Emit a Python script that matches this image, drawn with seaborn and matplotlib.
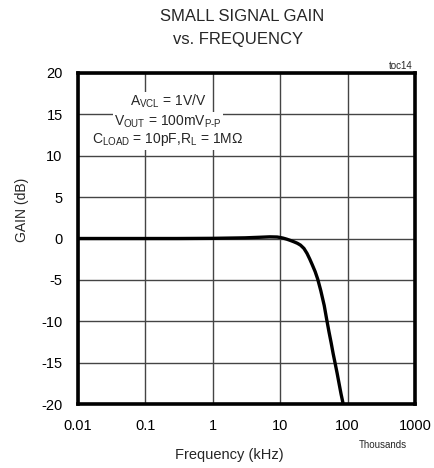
import matplotlib
matplotlib.use("Agg")
import matplotlib.pyplot as plt
import seaborn as sns
import pandas as pd
from matplotlib.ticker import FixedLocator, FixedFormatter, NullLocator

freq_khz = [0.01, 0.03, 0.1, 0.3, 1, 3, 5, 7, 9, 10, 11, 12.5, 14, 16, 18, 20, 22.5, 25, 27.5, 30, 33, 36, 40, 45, 49, 53, 57, 61, 65, 70, 75, 80, 86]
gain_db = [0.0, 0.0, 0.0, 0.0, 0.02, 0.08, 0.15, 0.2, 0.18, 0.12, 0.05, -0.08, -0.22, -0.4, -0.58, -0.8, -1.2, -1.8, -2.5, -3.2, -4.0, -4.9, -6.3, -8.1, -9.8, -11.3, -12.6, -13.9, -15.0, -16.3, -17.6, -18.8, -20.0]

x_ticks = [0.01, 0.1, 1, 10, 100, 1000]
x_labels = ["0.01", "0.1", "1", "10", "100", "1000"]
y_ticks = [-20, -15, -10, -5, 0, 5, 10, 15, 20]
y_labels = ["-20", "-15", "-10", "-5", "0", "5", "10", "15", "20"]

sns.set_style("white")
plt.rcParams["font.family"] = ["Liberation Sans", "DejaVu Sans"]
plt.rcParams["mathtext.fontset"] = "custom"
plt.rcParams["mathtext.rm"] = "Liberation Sans"
plt.rcParams["mathtext.it"] = "Liberation Sans"

fig = plt.figure(figsize=(4.34, 4.68), dpi=100)
ax = fig.add_axes([78 / 434, 1 - 404 / 468, (415 - 78) / 434, (404 - 73) / 468])

df = pd.DataFrame({"f": freq_khz, "g": gain_db})
sns.lineplot(data=df, x="f", y="g", ax=ax, color="black", linewidth=2.4, sort=True, zorder=3)

ax.set_xscale("log")
ax.set_xlim(0.01, 1000)
ax.set_ylim(-20, 20)
ax.xaxis.set_major_locator(FixedLocator(x_ticks))
ax.xaxis.set_major_formatter(FixedFormatter(x_labels))
ax.xaxis.set_minor_locator(NullLocator())
ax.yaxis.set_major_locator(FixedLocator(y_ticks))
ax.yaxis.set_major_formatter(FixedFormatter(y_labels))
ax.tick_params(axis="both", length=0, labelsize=10.5, colors="black")
ax.tick_params(axis="x", pad=11)
ax.tick_params(axis="y", pad=11)
ax.grid(True, color="#444444", linewidth=1.0)
for s in ax.spines.values():
    s.set_linewidth(2.6)
    s.set_color("black")
    s.set_visible(True)

ax.set_xlabel("Frequency (kHz)", fontsize=10.5, va="center")
ax.xaxis.set_label_coords(0.45, -(455 - 404) / 331)
ax.set_ylabel("GAIN (dB)", fontsize=10, va="center")
ax.yaxis.set_label_coords((22 - 78) / 337, (404 - 210) / 331)

fig.text(242 / 434, 1 - 21 / 468, "SMALL SIGNAL GAIN", ha="center", va="baseline", fontsize=12)
fig.text(238 / 434, 1 - 44 / 468, "vs. FREQUENCY", ha="center", va="baseline", fontsize=12)
fig.text(413 / 434, 1 - 66 / 468, "toc14", ha="right", va="center", fontsize=7)
fig.text(383 / 434, 1 - 445 / 468, "Thousands", ha="center", va="center", fontsize=7)

box = dict(facecolor="white", edgecolor="none", pad=1)
ax.text(0.267, 0.913, "A$_{\\mathrm{VCL}}$ = 1V/V", transform=ax.transAxes, ha="center", va="center",
        fontsize=10, bbox=box, zorder=4)
ax.text(0.267, 0.853, "V$_{\\mathrm{OUT}}$ = 100mV$_{\\mathrm{P\\text{-}P}}$", transform=ax.transAxes, ha="center", va="center",
        fontsize=10, bbox=box, zorder=4)
ax.text(0.267, 0.798, "C$_{\\mathrm{LOAD}}$ = 10pF,R$_{\\mathrm{L}}$ = 1M$\\Omega$", transform=ax.transAxes, ha="center", va="center",
        fontsize=10, bbox=box, zorder=4)

fig.savefig("out.png", dpi=100)
